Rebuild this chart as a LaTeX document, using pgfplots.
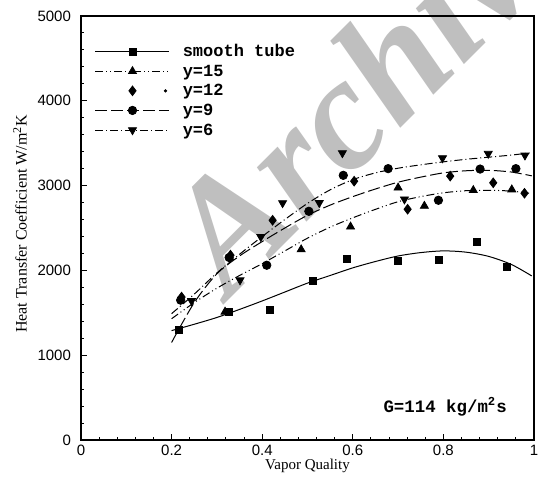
\documentclass[border=0pt]{standalone}
\usepackage{fontspec}
\setmainfont{Liberation Serif}
\setsansfont{Liberation Sans}
\setmonofont{Liberation Mono}
\usepackage{pgfplots}
\pgfplotsset{compat=1.18}

\pgfplotsset{
  leg/.style n args={2}{legend image code/.code={
    \draw[black, line width=0.5pt, #1] (0pt,0pt) -- (37pt,0pt);
    \draw[black, solid, #2] plot coordinates {(18.5pt,0pt)};
  }},
}

\begin{document}
\begin{tikzpicture}
\useasboundingbox (-40.5pt,-21.5pt) rectangle (230pt,220pt);
% watermark behind the plot
\node[rotate=45, anchor=base west, text=black!25, inner sep=0pt,
      font=\fontsize{80}{80}\selectfont\bfseries\itshape] at (74pt,70pt) {Archive};
\begin{axis}[
  scale only axis, width=226.5pt, height=212pt,
  at={(0,0)}, anchor=south west,
  xmin=0, xmax=1, ymin=0, ymax=5000,
  xtick={0,0.2,0.4,0.6,0.8,1}, ytick={0,1000,2000,3000,4000,5000},
  minor x tick num=4, minor y tick num=4,
  tick pos=left, tick align=inside,
  major tick length=3pt, minor tick length=1.5pt,
  axis line style={line width=1pt},
  every tick/.style={black, line width=0.5pt},
  scaled ticks=false,
  /pgf/number format/assume math mode=true,
  tick label style={font=\sffamily\fontsize{7.5}{8}\selectfont},
  yticklabel style={/pgf/number format/1000 sep={}, xshift=-1.5pt},
  xticklabel style={yshift=1pt},
  xlabel={Vapor Quality},
  ylabel={Heat Transfer Coefficient W/m\textsuperscript{2}K},
  xlabel style={font=\fontsize{7.5}{8}\selectfont, at={(axis description cs:0.5,0)}, anchor=north, yshift=-6pt},
  ylabel style={font=\fontsize{8}{9}\selectfont, at={(axis description cs:-0.1347,0.51)}, anchor=center},
  legend style={draw=none, fill=none, at={(0.03,0.94)}, anchor=north west,
    inner sep=0pt, font=\ttfamily\bfseries\fontsize{8.5}{9}\selectfont,
    nodes={inner sep=0.4pt, text height=7pt, text depth=2pt},
    /tikz/every odd column/.append style={column sep=6pt}},
  legend cell align=left,
]
% fitted curves
\addplot[black, line width=0.5pt, smooth, forget plot] coordinates {
  (0.2,1290)(0.25,1365)(0.3,1445)(0.35,1540)(0.4,1640)(0.45,1745)(0.5,1850)
  (0.55,1940)(0.6,2030)(0.65,2105)(0.7,2170)(0.75,2210)(0.8,2230)(0.85,2215)
  (0.9,2165)(0.95,2070)(0.995,1935)};
\addplot[black, line width=0.5pt, smooth, forget plot,
  dash pattern=on 4pt off 1.5pt on 0.5pt off 1.5pt on 0.5pt off 1.5pt] coordinates {
  (0.2,1430)(0.25,1620)(0.3,1790)(0.35,1940)(0.4,2080)(0.45,2230)(0.5,2380)
  (0.55,2510)(0.6,2620)(0.65,2720)(0.7,2810)(0.75,2870)(0.8,2915)(0.85,2940)
  (0.9,2945)(0.95,2935)(0.99,2910)};
\addplot[black, line width=0.5pt, smooth, forget plot,
  dash pattern=on 6pt off 2pt] coordinates {
  (0.2,1150)(0.25,1620)(0.3,1960)(0.35,2170)(0.4,2340)(0.45,2500)(0.5,2650)
  (0.55,2770)(0.6,2870)(0.65,2960)(0.7,3040)(0.75,3100)(0.8,3150)(0.85,3175)
  (0.9,3180)(0.95,3160)(0.995,3115)};
\addplot[black, line width=0.5pt, smooth, forget plot,
  dash pattern=on 4pt off 1.5pt on 0.5pt off 1.5pt] coordinates {
  (0.2,1490)(0.25,1720)(0.3,1970)(0.35,2190)(0.4,2400)(0.45,2600)(0.5,2790)
  (0.55,2950)(0.6,3070)(0.65,3150)(0.7,3205)(0.75,3245)(0.8,3280)(0.85,3310)
  (0.9,3335)(0.95,3360)(0.99,3385)};
% measured points
\addplot[black, only marks, mark=square*, mark size=1.75pt,
  leg={solid}{mark=square*, mark size=1.75pt}] coordinates {
  (0.217,1300)(0.327,1511)(0.416,1530)(0.511,1873)(0.587,2140)
  (0.700,2108)(0.789,2120)(0.875,2332)(0.941,2038)};
\addlegendentry{smooth tube}
\addplot[black, only marks, mark=triangle*, mark size=2.3pt,
  leg={dash pattern=on 4pt off 1.5pt on 0.5pt off 1.5pt on 0.5pt off 1.5pt}{mark=triangle*, mark size=2.3pt}] coordinates {
  (0.318,1511)(0.486,2246)(0.595,2515)(0.700,2975)(0.758,2760)
  (0.866,2945)(0.951,2953)};
\addlegendentry{y=15}
\addplot[black, only marks, mark=diamond*, mark size=2.4pt,
  legend image code/.code={
    \draw[black, mark=diamond*, mark size=2.4pt] plot coordinates {(18.5pt,0pt)};
    \fill[black] (35pt,0pt) circle (0.6pt);}] coordinates {
  (0.222,1685)(0.330,2180)(0.423,2591)(0.603,3052)(0.721,2721)
  (0.815,3112)(0.910,3033)(0.979,2910)};
\addlegendentry{y=12}
\addplot[black, only marks, mark=*, mark size=2.1pt,
  leg={dash pattern=on 6pt off 2pt}{mark=*, mark size=2.1pt}] coordinates {
  (0.220,1649)(0.327,2152)(0.410,2061)(0.503,2697)(0.579,3121)
  (0.678,3200)(0.789,2827)(0.881,3195)(0.960,3200)};
\addlegendentry{y=9}
\addplot[black, only marks, mark=triangle*, mark size=2.3pt, mark options={rotate=180},
  leg={dash pattern=on 4pt off 1.5pt on 0.5pt off 1.5pt}{mark=triangle*, mark size=2.3pt, mark options={rotate=180}}] coordinates {
  (0.244,1641)(0.351,1885)(0.397,2395)(0.445,2795)(0.526,2797)
  (0.577,3384)(0.714,2839)(0.798,3325)(0.899,3377)(0.980,3357)};
\addlegendentry{y=6}
\node[anchor=west, inner sep=0pt, font=\ttfamily\bfseries\fontsize{8.7}{9}\selectfont]
  at (axis cs:0.667,390) {G=114 kg/m\textsuperscript{2}s};
\end{axis}
\end{tikzpicture}
\end{document}
